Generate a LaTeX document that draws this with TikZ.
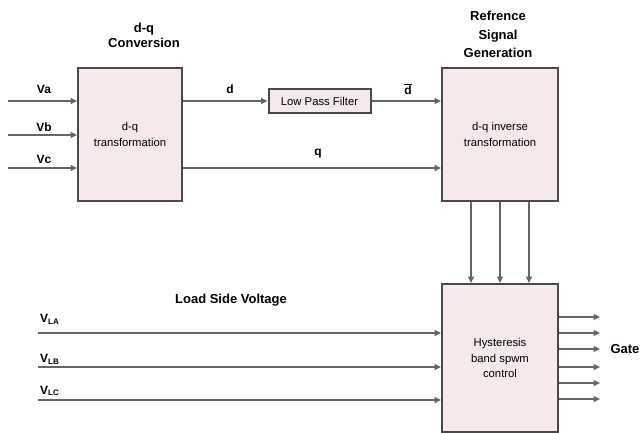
\documentclass[tikz,border=0pt]{standalone}
\usepackage{fontspec}
\setmainfont{Liberation Sans}
\usetikzlibrary{arrows.meta}
\definecolor{boxfill}{HTML}{F7E9E9}
\definecolor{boxline}{HTML}{4A4A4A}
\definecolor{wire}{HTML}{656565}
\begin{document}
\begin{tikzpicture}[x=1pt, y=-1pt,
  block/.style={draw=boxline, fill=boxfill, line width=2pt, align=center, inner sep=0pt, font=\fontsize{11.3}{15.5}\selectfont},
  sig/.style={draw=wire, line width=1.8pt, -{Triangle[length=6.5pt,width=6pt]}},
  lbl/.style={font=\bfseries\fontsize{12}{14}\selectfont},
  ttl/.style={align=center, font=\bfseries\fontsize{13}{15.5}\selectfont}]
  \useasboundingbox (0,0) rectangle (642,433);
  % Titles
  \node[ttl] (dqtitle) at (144,35.5) {d-q\\Conversion};
  \node[ttl, font=\bfseries\fontsize{13}{18.5}\selectfont] (reftitle) at (498,34.5) {Refrence\\Signal\\Generation};
  \node[ttl] (loadtitle) at (231,300) {Load Side Voltage};
  % Blocks
  \node[block, minimum width=104, minimum height=133] (dq) at (130,134.5) {d-q\\transformation};
  \node[block, minimum width=102, minimum height=24] (lpf) at (319.5,101) {Low Pass Filter};
  \node[block, minimum width=116, minimum height=133] (ref) at (500,134.5) {d-q inverse\\transformation};
  \node[block, minimum width=116, minimum height=148] (hys) at (500,358) {Hysteresis\\band spwm\\control};
  % Phase inputs
  \foreach \n/\y/\ly/\t in {va/101/89/Va, vb/135/127/Vb, vc/168/159/Vc} {
    \coordinate (\n) at (8,\y);
    \draw[sig] (\n) -- (\n -| dq.west);
    \node[lbl] (\n lbl) at (44,\ly) {\t};
  }
  % d and q paths
  \draw[sig] (lpf.west -| dq.east) -- (lpf.west);
  \node[lbl] (dlbl) at (230,89) {d};
  \draw[sig] (lpf.east) -- (lpf.east -| ref.west);
  \node[lbl] (dbarlbl) at (408,89) {$\overline{\textbf{d}}$};
  \draw[sig] (vc -| dq.east) -- (vc -| ref.west);
  \node[lbl] (qlbl) at (318,154) {q};
  % Reference signals
  \foreach \dx in {-29,0,29}
    \draw[sig] ([xshift=\dx pt]ref.south) -- ([xshift=\dx pt]hys.north);
  % Load side voltages
  \foreach \n/\y/\ly/\t in {vla/333/319/LA, vlb/367/359/LB, vlc/400/391/LC} {
    \coordinate (\n) at (38,\y);
    \draw[sig] (\n) -- (\n -| hys.west);
    \node[lbl, anchor=west, inner sep=0pt] (\n lbl) at (40,\ly) {V\textsubscript{\textbf{\t}}};
  }
  % Gate signals
  \foreach \y in {317,333,349,367,383,399} {
    \coordinate (g\y) at (600,\y);
    \draw[sig] (g\y -| hys.east) -- (g\y);
  }
  \node[lbl, anchor=west, font=\bfseries\fontsize{13}{15}\selectfont] (gate) at (607,349) {Gate};
\end{tikzpicture}
\end{document}
